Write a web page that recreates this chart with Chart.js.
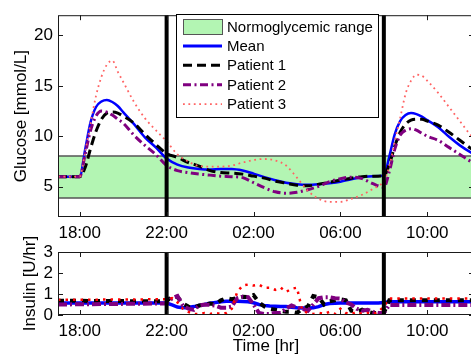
<!DOCTYPE html>
<html>
<head>
<meta charset="utf-8">
<script src="https://cdn.jsdelivr.net/npm/chart.js@4.4.1/dist/chart.umd.min.js"></script>
<style>
  html, body { margin: 0; padding: 0; background: #fff; overflow: hidden; }
  #wrap { position: relative; width: 471px; height: 359px; overflow: hidden; }
  #glucose { position: absolute; left: 0; top: 0; }
  #insulin { position: absolute; left: 0; top: 225px; }
</style>
</head>
<body>
<div id="wrap">
  <canvas id="glucose" width="476" height="245"></canvas>
  <canvas id="insulin" width="476" height="134"></canvas>
</div>
<script>
// time axis in hours since midnight of day 1 (24 = 00:00 next day)
const timeTicks = [18, 22, 26, 30, 34];
const mealHours = [22, 32];
const glucoseTicks = [5, 10, 15, 20];
const insulinTicks = [0, 1, 2, 3];
const normoRange = [3.9, 8];

const seriesNames = ["Mean", "Patient 1", "Patient 2", "Patient 3"];

// glucose [mmol/L]
const gHours = [17, 18, 18.25, 18.5, 18.75, 19, 19.25, 19.5, 19.75, 20, 20.5, 21, 21.5, 22,
  22.5, 23, 23.5, 24, 24.5, 25, 25.5, 26, 26.5, 27, 27.5, 28, 28.5, 29, 29.5, 30, 30.5, 31,
  31.5, 32, 32.25, 32.5, 32.75, 33, 33.25, 33.5, 33.75, 34, 34.5, 35, 35.5, 36, 36.5];
const meanGlucose = [6.0, 6.0, 8.7, 11.4, 12.9, 13.45, 13.6, 13.4, 13.0, 12.4, 11.2, 9.9, 8.9, 7.8,
  7.2, 6.9, 6.75, 6.7, 6.75, 6.75, 6.6, 6.3, 5.95, 5.65, 5.4, 5.25, 5.2, 5.25, 5.35, 5.5, 5.75, 5.95,
  6.05, 6.1, 8.0, 10.2, 11.5, 12.1, 12.3, 12.2, 11.95, 11.6, 10.9, 9.95, 9.1, 8.4, 7.8];
const p1Glucose = [6.0, 6.0, 6.9, 8.8, 10.5, 11.7, 12.3, 12.4, 12.3, 12.0, 11.3, 10.2, 9.2, 8.3,
  7.9, 7.4, 7.05, 6.6, 6.4, 6.35, 6.25, 6.05, 5.85, 5.55, 5.35, 5.15, 5.1, 5.25, 5.45, 5.65, 5.85, 6.0,
  6.05, 6.1, 7.2, 9.0, 10.4, 11.2, 11.6, 11.7, 11.7, 11.5, 11.1, 10.4, 9.6, 8.8, 8.1];
const p2Glucose = [6.0, 6.0, 8.2, 10.6, 12.0, 12.5, 12.4, 12.1, 11.7, 11.3, 10.1, 9.1, 8.2, 7.1,
  6.6, 6.4, 6.25, 6.15, 6.05, 6.0, 5.9, 5.4, 4.9, 4.5, 4.35, 4.45, 4.7, 5.05, 5.5, 5.8, 5.95, 5.8,
  5.3, 4.95, 6.5, 8.7, 10.1, 10.6, 10.75, 10.6, 10.3, 10.0, 9.6, 8.9, 8.2, 7.5, 6.9];
const p3Glucose = [6.0, 6.0, 8.5, 11.3, 14.0, 15.9, 17.1, 17.5, 16.4, 15.4, 13.4, 11.8, 10.6, 9.5,
  8.2, 7.5, 7.05, 7.0, 7.0, 7.1, 7.4, 7.65, 7.75, 7.6, 7.1, 5.9, 4.6, 3.8, 3.5, 3.5, 3.8, 4.2,
  4.8, 5.6, 7.0, 9.5, 11.8, 14.2, 15.5, 16.1, 16.0, 15.5, 14.3, 12.9, 11.5, 10.1, 9.0];

// insulin [U/hr]
const iHours = [17, 22, 22.25, 22.5, 22.75, 23, 23.25, 23.5, 23.75, 24, 24.25, 24.5, 24.75, 25,
  25.25, 25.5, 25.75, 26, 26.25, 26.5, 26.75, 27, 27.25, 27.5, 27.75, 28, 28.25, 28.5, 28.75, 29,
  29.25, 29.5, 29.75, 30, 30.25, 30.5, 30.75, 31, 31.25, 31.5, 31.75, 32, 32.25, 36.5];
const meanInsulin = [0.57, 0.57, 0.48, 0.38, 0.34, 0.36, 0.40, 0.45, 0.50, 0.56, 0.60, 0.63, 0.65, 0.66,
  0.65, 0.64, 0.63, 0.58, 0.50, 0.45, 0.43, 0.42, 0.41, 0.40, 0.37, 0.34, 0.33, 0.33, 0.34, 0.40,
  0.50, 0.55, 0.56, 0.57, 0.57, 0.57, 0.57, 0.57, 0.57, 0.57, 0.57, 0.60, 0.63, 0.63];
const p1Insulin = [0.68, 0.65, 0.9, 0.85, 0.55, 0.4, 0.35, 0.45, 0.5, 0.55, 0.5, 0.7, 0.8, 0.75,
  0.8, 0.87, 0.85, 0.95, 0.6, 0.4, 0.3, 0.25, 0.2, 0.15, 0.15, 0.1, 0.3, 0.4, 0.9, 0.85,
  0.5, 0.65, 0.7, 0.75, 0.7, 0.2, 0.15, 0.25, 0.15, 0.1, 0.1, 0.1, 0.7, 0.7];
const p2Insulin = [0.5, 0.55, 0.8, 0.9, 0.45, 0.3, 0.25, 0.45, 0.5, 0.48, 0.45, 0.35, 0.35, 0.4,
  0.8, 0.87, 0.85, 0.5, 0.1, 0.05, 0.05, 0.1, 0.1, 0.3, 0.45, 0.35, 0.3, 0.2, 0.5, 0.8,
  0.85, 0.85, 0.8, 0.78, 0.6, 0.5, 0.3, 0.2, 0.25, 0.15, 0.1, 0.1, 0.48, 0.48];
const p3Insulin = [0.72, 0.75, 0.8, 0.6, 0.3, 0.15, 0.05, 0.05, 0.1, 0.05, 0.1, 0.05, 0.1, 0.3,
  1.1, 1.4, 1.45, 1.4, 1.45, 1.3, 1.3, 1.2, 1.3, 1.1, 1.25, 1.3, 0.2, 0.1, 0.05, 0.1,
  0.05, 0.15, 0.05, 0.3, 0.1, 0.05, 0.15, 0.05, 0.1, 0.05, 0.15, 0.4, 0.78, 0.78];

const FONT = "'Liberation Sans', Arial, sans-serif";
Chart.defaults.font.family = FONT;
Chart.defaults.font.size = 17;
Chart.defaults.color = "#000";

const BAND_FILL = "#b3f5b3";
const BAND_EDGE = "#555";

function toPoints(hours, vals) {
  return hours.map((h, i) => ({ x: h, y: vals[i] }));
}

function fmtHour(v) {
  return String(v % 24).padStart(2, "0") + ":00";
}

function seg(ctx, x1, y1, x2, y2) {
  ctx.beginPath();
  ctx.moveTo(x1, y1);
  ctx.lineTo(x2, y2);
  ctx.stroke();
}

function drawLegend(chart) {
  const ctx = chart.ctx;
  const x0 = 176, y0 = 14, w = 202, h = 103;
  ctx.save();
  ctx.fillStyle = "#fff";
  ctx.fillRect(x0, y0, w, h);
  ctx.strokeStyle = "#000";
  ctx.lineWidth = 1;
  ctx.strokeRect(x0 + 0.5, y0 + 0.5, w, h);
  ctx.font = "15px " + FONT;
  ctx.textBaseline = "middle";
  ctx.fillStyle = "#000";

  let cy = 26.5;
  ctx.fillStyle = BAND_FILL;
  ctx.fillRect(183, cy - 7.5, 39, 15);
  ctx.strokeStyle = BAND_EDGE;
  ctx.strokeRect(183.5, cy - 7, 39, 15);
  ctx.fillStyle = "#000";
  ctx.fillText("Normoglycemic range", 227, cy + 1);

  chart.data.datasets.forEach((ds) => {
    cy += 19.4;
    ctx.strokeStyle = ds.borderColor;
    ctx.lineWidth = ds.legendWidth;
    ctx.setLineDash(ds.borderDash || []);
    seg(ctx, 183, cy, 222, cy);
    ctx.setLineDash([]);
    ctx.fillText(ds.label, 227, cy + 1);
  });
  ctx.restore();
}

const framePlugin = {
  id: "frame",
  beforeDatasetsDraw(chart, args, opts) {
    if (!opts.band) return;
    const { ctx, chartArea: a, scales: { y } } = chart;
    const top = Math.round(y.getPixelForValue(opts.band[1]));
    const bot = Math.round(y.getPixelForValue(opts.band[0]));
    ctx.save();
    ctx.fillStyle = BAND_FILL;
    ctx.fillRect(a.left, top, a.right - a.left, bot - top);
    ctx.strokeStyle = BAND_EDGE;
    ctx.lineWidth = 1.5;
    seg(ctx, a.left, top, a.right, top);
    seg(ctx, a.left, bot, a.right, bot);
    ctx.restore();
  },
  afterDatasetsDraw(chart, args, opts) {
    const { ctx, chartArea: a, scales: { x, y } } = chart;
    ctx.save();
    ctx.strokeStyle = "#000";
    ctx.lineWidth = 4;
    mealHours.forEach((hr) => {
      const px = x.getPixelForValue(hr);
      seg(ctx, px, a.top, px, a.bottom);
    });
    ctx.lineWidth = 1;
    ctx.strokeStyle = "#1a1a1a";
    ctx.strokeRect(a.left + 0.5, a.top + 0.5, a.right - a.left - 1, a.bottom - a.top - 1);
    const tl = 5;
    timeTicks.forEach((t) => {
      const px = Math.round(x.getPixelForValue(t)) + 0.5;
      seg(ctx, px, a.bottom, px, a.bottom - tl);
      seg(ctx, px, a.top, px, a.top + tl);
    });
    opts.yTicks.forEach((v) => {
      const py = Math.round(y.getPixelForValue(v)) + 0.5;
      seg(ctx, a.left, py, a.left + tl, py);
      seg(ctx, a.right, py, a.right - tl, py);
    });
    ctx.restore();
  },
  afterDraw(chart, args, opts) {
    if (opts.legend) drawLegend(chart);
  }
};

function xScale(height, title) {
  return {
    type: "linear",
    min: 17,
    max: 36.15,
    grid: { display: false, drawTicks: false },
    border: { display: false },
    afterBuildTicks: (s) => { s.ticks = timeTicks.map((v) => ({ value: v })); },
    afterFit: (s) => { s.height = height; },
    ticks: { padding: 6, autoSkip: false, maxRotation: 0, callback: (v) => fmtHour(v) },
    title: title
  };
}

function yScale(min, max, ticks, text, pad) {
  return {
    min: min,
    max: max,
    grid: { display: false, drawTicks: false },
    border: { display: false },
    afterBuildTicks: (s) => { s.ticks = ticks.map((v) => ({ value: v })); },
    afterFit: (s) => { s.width = 58; },
    ticks: { padding: 5, autoSkip: false },
    title: { display: true, text: text, padding: { top: pad, bottom: 0 } }
  };
}

function line(label, hours, vals, color, width, dash, order, legendWidth) {
  return {
    label: label,
    data: toPoints(hours, vals),
    borderColor: color,
    borderWidth: width,
    borderDash: dash,
    legendWidth: legendWidth || width,
    pointRadius: 0,
    fill: false,
    order: order
  };
}

const glucoseSets = [
  line(seriesNames[0], gHours, meanGlucose, "#0000ff", 2.5, [], 4, 3),
  line(seriesNames[1], gHours, p1Glucose, "#000000", 3, [9, 5], 3),
  line(seriesNames[2], gHours, p2Glucose, "#800080", 3, [8, 3.5, 2, 3.5], 2),
  line(seriesNames[3], gHours, p3Glucose, "#ff6464", 1.8, [1.8, 3.6], 1)
];
glucoseSets.forEach((ds) => { ds.cubicInterpolationMode = "monotone"; });

new Chart(document.getElementById("glucose"), {
  type: "line",
  data: { datasets: glucoseSets },
  options: {
    responsive: false,
    animation: false,
    layout: { padding: { top: 10, right: 2, left: 0, bottom: 0 } },
    scales: {
      x: xScale(28, { display: false }),
      y: yScale(2, 22, glucoseTicks, "Glucose [mmol/L]", 11)
    },
    plugins: {
      legend: { display: false },
      tooltip: { enabled: false },
      frame: { band: normoRange, legend: true, yTicks: glucoseTicks }
    }
  },
  plugins: [framePlugin]
});

new Chart(document.getElementById("insulin"), {
  type: "line",
  data: {
    datasets: [
      line(seriesNames[0], iHours, meanInsulin, "#0000ff", 3.5, [], 4),
      line(seriesNames[1], iHours, p1Insulin, "#000000", 4, [6, 6], 3),
      line(seriesNames[2], iHours, p2Insulin, "#800080", 4, [9, 3, 2, 3], 2),
      line(seriesNames[3], iHours, p3Insulin, "#ff0000", 2.5, [2.5, 5], 1)
    ]
  },
  options: {
    responsive: false,
    animation: false,
    layout: { padding: { top: 27, right: 2, left: 0, bottom: 0 } },
    scales: {
      x: xScale(44, { display: true, text: "Time [hr]", padding: { top: 0, bottom: 2 } }),
      y: yScale(0, 3, insulinTicks, "Insulin [U/hr]", 20)
    },
    plugins: {
      legend: { display: false },
      tooltip: { enabled: false },
      frame: { band: null, legend: false, yTicks: insulinTicks }
    }
  },
  plugins: [framePlugin]
});
</script>
</body>
</html>
